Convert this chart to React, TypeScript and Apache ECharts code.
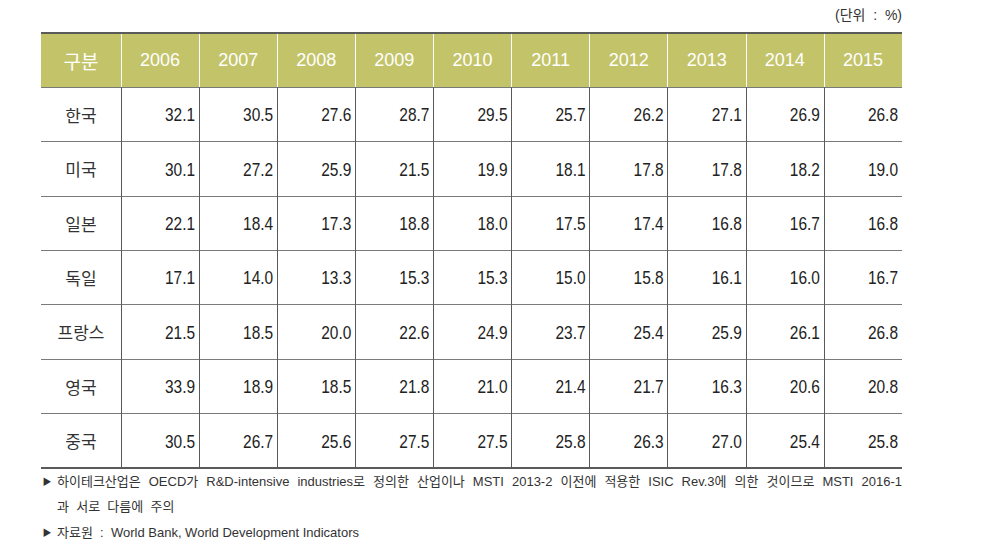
import React, { useEffect, useRef } from "react";
import * as echarts from "echarts";

const years = ["2006", "2007", "2008", "2009", "2010", "2011", "2012", "2013", "2014", "2015"];
const countries = ["한국", "미국", "일본", "독일", "프랑스", "영국", "중국"];
const korea = [32.1, 30.5, 27.6, 28.7, 29.5, 25.7, 26.2, 27.1, 26.9, 26.8];
const usa = [30.1, 27.2, 25.9, 21.5, 19.9, 18.1, 17.8, 17.8, 18.2, 19.0];
const japan = [22.1, 18.4, 17.3, 18.8, 18.0, 17.5, 17.4, 16.8, 16.7, 16.8];
const germany = [17.1, 14.0, 13.3, 15.3, 15.3, 15.0, 15.8, 16.1, 16.0, 16.7];
const france = [21.5, 18.5, 20.0, 22.6, 24.9, 23.7, 25.4, 25.9, 26.1, 26.8];
const uk = [33.9, 18.9, 18.5, 21.8, 21.0, 21.4, 21.7, 16.3, 20.6, 20.8];
const china = [30.5, 26.7, 25.6, 27.5, 27.5, 25.8, 26.3, 27.0, 25.4, 25.8];
const rows = [korea, usa, japan, germany, france, uk, china];

const headerFirst = "구분";
const unitText = "(단위  :  %)";
const note1 = "하이테크산업은 OECD가 R&D-intensive industries로 정의한 산업이나 MSTI 2013-2 이전에 적용한 ISIC Rev.3에 의한 것이므로 MSTI 2016-1";
const note2 = "과  서로  다름에  주의";
const note3 = "자료원  :  World Bank, World Development Indicators";

const LAT = "'Liberation Sans', 'Noto Sans CJK KR', sans-serif";
const KR = "'Noto Sans CJK KR', sans-serif";
const NOTE_FONT = `13px ${LAT}`;

function measure(text: string, font: string): number {
  const c = document.createElement("canvas").getContext("2d");
  if (!c) return text.length * 7;
  c.font = font;
  return c.measureText(text).width;
}

function justified(text: string, x0: number, x1: number, y: number, font: string) {
  const words = text.split(" ");
  const widths = words.map((w) => measure(w, font));
  const total = widths.reduce((a, b) => a + b, 0);
  const gap = (x1 - x0 - total) / (words.length - 1);
  let x = x0;
  return words.map((w, i) => {
    const el = {
      type: "text",
      z: 10,
      x,
      y,
      style: { text: w, fill: "#333333", font, align: "left", verticalAlign: "middle" },
    };
    x += widths[i] + gap;
    return el;
  });
}

export default function App() {
  const ref = useRef<HTMLDivElement>(null);
  useEffect(() => {
    if (!ref.current) return;
    const chart = echarts.init(ref.current, undefined, { renderer: "svg" });
    const data: any[] = [];
    rows.forEach((r, ci) => r.forEach((v, yi) => data.push([yi, ci, v])));
    chart.setOption({
      animation: false,
      backgroundColor: "#ffffff",
      grid: { left: 121, right: 80, top: 87, bottom: 88 },
      xAxis: {
        type: "category",
        data: years,
        position: "top",
        boundaryGap: true,
        axisLine: { show: false },
        axisTick: { show: true, length: 54, lineStyle: { color: "#ffffff", width: 1 } },
        axisLabel: {
          color: "#ffffff",
          fontFamily: LAT,
          fontSize: 18,
          margin: 27,
          verticalAlign: "middle",
        },
        splitLine: { show: true, showMaxLine: false, lineStyle: { color: "#5a5a5a", width: 1 } },
      },
      yAxis: {
        type: "category",
        data: countries,
        inverse: true,
        boundaryGap: true,
        axisLine: { show: false },
        axisTick: { show: true, length: 80, lineStyle: { color: "#7a7a7a", width: 1 } },
        axisLabel: {
          color: "#333333",
          fontFamily: KR,
          fontSize: 17,
          margin: 40,
          align: "center",
        },
        splitLine: { show: true, lineStyle: { color: "#7a7a7a", width: 1 } },
      },
      series: [
        {
          type: "custom",
          data,
          silent: true,
          renderItem: (params: any, api: any) => {
            const p = api.coord([api.value(0), api.value(1)]);
            const w = api.size([1, 0])[0];
            return {
              type: "text",
              x: p[0] + w / 2 - 4,
              y: p[1] + 1,
              scaleX: 0.86,
              style: {
                text: Number(api.value(2)).toFixed(1),
                fill: "#222222",
                font: `18px ${LAT}`,
                align: "right",
                verticalAlign: "middle",
              },
            };
          },
        },
      ],
      graphic: [
        { type: "rect", z: -10, shape: { x: 41, y: 33, width: 861, height: 54 }, style: { fill: "#c3c46a" } },
        { type: "line", z: 10, shape: { x1: 41, y1: 33, x2: 902, y2: 33 }, style: { stroke: "#5a5a5a", lineWidth: 2 } },
        { type: "line", z: 10, shape: { x1: 41, y1: 468, x2: 902, y2: 468 }, style: { stroke: "#5a5a5a", lineWidth: 2 } },
        {
          type: "text", z: 10, x: 81, y: 60,
          style: { text: headerFirst, fill: "#ffffff", font: `19px ${KR}`, align: "center", verticalAlign: "middle" },
        },
        {
          type: "text", z: 10, x: 902, y: 15,
          style: { text: unitText, fill: "#333333", font: `14px ${LAT}`, align: "right", verticalAlign: "middle" },
        },
        {
          type: "text", z: 10, x: 47, y: 481,
          style: { text: "▶", fill: "#333333", font: `9px ${KR}`, align: "center", verticalAlign: "middle" },
        },
        ...justified(note1, 57, 902, 481, NOTE_FONT),
        {
          type: "text", z: 10, x: 57, y: 506,
          style: { text: note2, fill: "#333333", font: NOTE_FONT, align: "left", verticalAlign: "middle" },
        },
        {
          type: "text", z: 10, x: 47, y: 532,
          style: { text: "▶", fill: "#333333", font: `9px ${KR}`, align: "center", verticalAlign: "middle" },
        },
        {
          type: "text", z: 10, x: 57, y: 532,
          style: { text: note3, fill: "#333333", font: NOTE_FONT, align: "left", verticalAlign: "middle" },
        },
      ],
    });
    return () => chart.dispose();
  }, []);
  return <div ref={ref} style={{ position: "fixed", left: 0, top: 0, width: 982, height: 556 }} />;
}
